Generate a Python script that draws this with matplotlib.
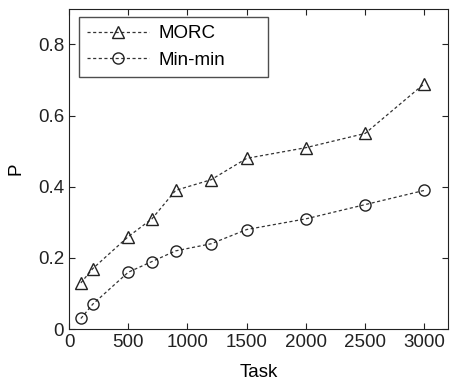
import numpy as np
import matplotlib
matplotlib.use("Agg")
import matplotlib.pyplot as plt

plt.rcParams['font.family'] = ['Liberation Sans', 'DejaVu Sans']

# task counts on x axis
tasks = [100, 200, 500, 700, 900, 1200, 1500, 2000, 2500, 3000]
morc = [0.13, 0.17, 0.26, 0.31, 0.39, 0.42, 0.48, 0.51, 0.55, 0.69]
minmin = [0.03, 0.07, 0.16, 0.19, 0.22, 0.24, 0.28, 0.31, 0.35, 0.39]

xticks = [0, 500, 1000, 1500, 2000, 2500, 3000]
yticks = [0, 0.2, 0.4, 0.6, 0.8]

fig = plt.figure(figsize=(4.54, 3.85), dpi=100)
ax = fig.add_axes([0.152, 0.145, 0.835, 0.832])

ax.plot(tasks, morc, linestyle='--', color='#333333', linewidth=0.9, dashes=(2.5, 2),
        marker='^', markersize=9, markerfacecolor='none', markeredgecolor='#222222',
        markeredgewidth=1.0, label='MORC')
ax.plot(tasks, minmin, linestyle='--', color='#333333', linewidth=0.9, dashes=(2.5, 2),
        marker='o', markersize=8, markerfacecolor='none', markeredgecolor='#222222',
        markeredgewidth=1.0, label='Min-min')

ax.set_xlim(0, 3200)
ax.set_ylim(0, 0.9)
ax.set_xticks(xticks)
ax.set_yticks(yticks)
ax.set_yticklabels(['0', '0.2', '0.4', '0.6', '0.8'])
ax.tick_params(direction='in', top=True, right=True, labelsize=13.5, length=4, colors='#222222')
for s in ax.spines.values():
    s.set_color('#222222')

ax.set_xlabel('Task', fontsize=13.5, labelpad=9)
ax.set_ylabel('P', fontsize=13.5, labelpad=10)

# legend stretched to the width of the original box
leg = ax.legend(loc='upper left', fontsize=13.5, frameon=True, fancybox=False,
                edgecolor='#222222', handlelength=3.3, borderpad=0.45,
                labelspacing=0.5, handletextpad=0.5,
                bbox_to_anchor=(0.026, 0.975, 0.50, 0.0), mode='expand',
                borderaxespad=0.0)
leg.get_frame().set_linewidth(1.0)

fig.savefig('out.png', dpi=100)
